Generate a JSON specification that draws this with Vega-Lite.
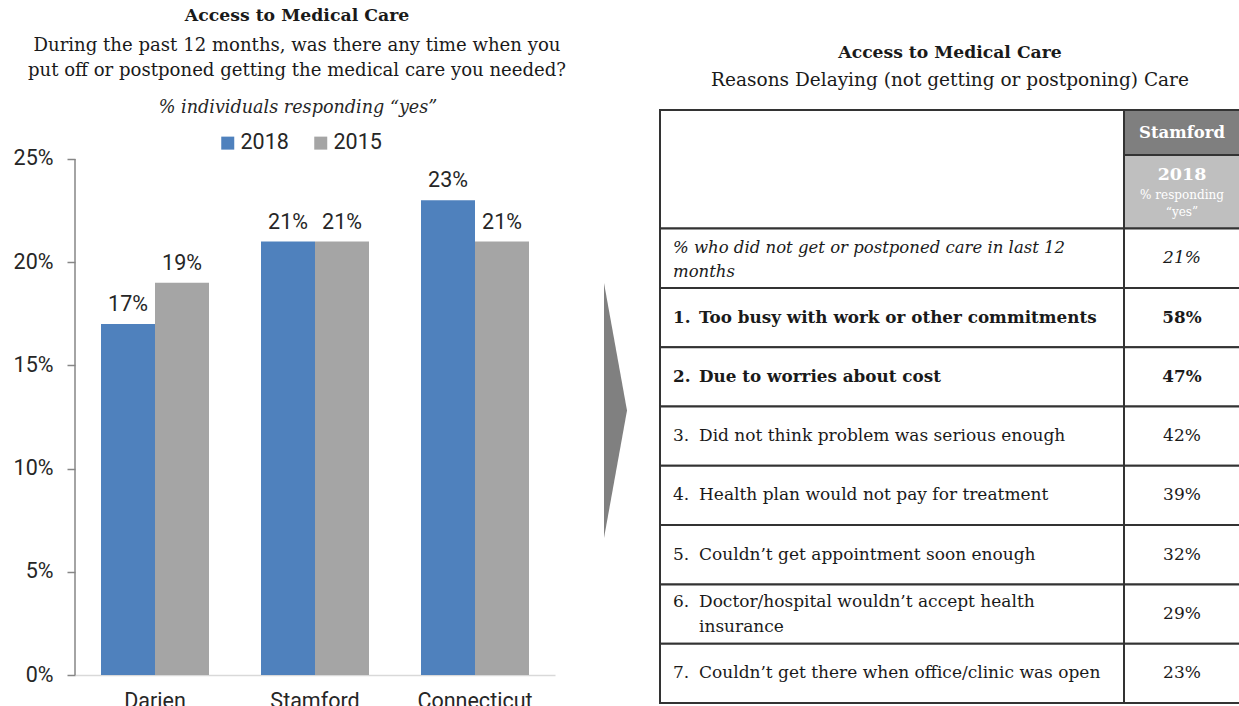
{
  "$schema": "https://vega.github.io/schema/vega-lite/v6.json",
  "background": "white",
  "padding": {"left": 13, "top": 6, "right": 0, "bottom": 0},
  "spacing": 32,
  "config": {
    "view": {"stroke": null},
    "font": "DejaVu Serif"
  },
  "hconcat": [
    {
      "width": 480,
      "height": 565,
      "title": {
        "text": "Access to Medical Care",
        "subtitle": ["During the past 12 months, was there any time when you", "put off or postponed getting the medical care you needed?"],
        "font": "DejaVu Serif",
        "fontSize": 17.3,
        "fontWeight": "bold",
        "color": "#1a1a1a",
        "subtitleFont": "DejaVu Serif",
        "subtitleFontSize": 18.1,
        "subtitleColor": "#1a1a1a",
        "subtitleLineHeight": 25,
        "subtitlePadding": 13,
        "frame": "group",
        "anchor": "middle",
        "dx": -18,
        "offset": 19
      },
      "data": {"values": [
        {"area": "Darien", "year": "2018", "pct": 0.17},
        {"area": "Darien", "year": "2015", "pct": 0.19},
        {"area": "Stamford", "year": "2018", "pct": 0.21},
        {"area": "Stamford", "year": "2015", "pct": 0.21},
        {"area": "Connecticut", "year": "2018", "pct": 0.23},
        {"area": "Connecticut", "year": "2015", "pct": 0.21}
      ]},
      "layer": [
        {
          "mark": {"type": "bar"},
          "encoding": {
            "x": {"field": "area", "type": "nominal", "sort": ["Darien", "Stamford", "Connecticut"],
              "scale": {"paddingInner": 0.325, "paddingOuter": 0.1625},
              "axis": {"title": null, "labelAngle": 0, "ticks": false, "labelFont": "Roboto", "labelFontSize": 21.5, "labelColor": "#262626", "labelPadding": 15, "domainColor": "#d9d9d9", "domainWidth": 1.5}},
            "xOffset": {"field": "year", "type": "nominal", "sort": ["2018", "2015"], "scale": {"paddingInner": 0, "paddingOuter": 0}},
            "y": {"field": "pct", "type": "quantitative", "scale": {"domain": [0, 0.27374], "nice": false},
              "axis": {"title": null, "values": [0, 0.05, 0.1, 0.15, 0.2, 0.25], "format": ".0%", "grid": false, "domain": false, "labelFont": "Roboto", "labelFontSize": 21.5, "labelColor": "#262626", "tickSize": 8, "labelPadding": 14, "tickColor": "#868686", "tickWidth": 1.5}},
            "color": {"field": "year", "type": "nominal", "sort": ["2018", "2015"],
              "scale": {"domain": ["2018", "2015"], "range": ["#4f81bd", "#a5a5a5"]},
              "legend": {"orient": "none", "legendX": 142, "legendY": 22, "direction": "horizontal", "title": null, "symbolType": "square", "symbolSize": 169, "symbolStrokeWidth": 0, "labelFont": "Roboto", "labelFontSize": 21.5, "labelColor": "#262626", "labelOffset": 2, "columnPadding": 21, "padding": 0}}
          }
        },
        {
          "data": {"values": [{"from": 0, "to": 0.25}]},
          "mark": {"type": "rule", "color": "#868686", "strokeWidth": 1.5},
          "encoding": {
            "x": {"value": 0},
            "y": {"field": "from", "type": "quantitative"},
            "y2": {"field": "to"}
          }
        },
        {
          "mark": {"type": "text", "font": "Roboto", "fontSize": 21.5, "baseline": "alphabetic", "dy": -13, "color": "#262626"},
          "encoding": {
            "x": {"field": "area", "type": "nominal", "sort": ["Darien", "Stamford", "Connecticut"]},
            "xOffset": {"field": "year", "type": "nominal", "sort": ["2018", "2015"]},
            "y": {"field": "pct", "type": "quantitative"},
            "text": {"field": "pct", "type": "quantitative", "format": ".0%"}
          }
        },
        {
          "data": {"values": [{"note": "% individuals responding “yes”"}]},
          "mark": {"type": "text", "font": "DejaVu Serif", "fontStyle": "italic", "fontSize": 17.6, "dx": -17, "dy": -51, "color": "#262626"},
          "encoding": {
            "y": {"datum": 0.25, "type": "quantitative"},
            "text": {"field": "note", "type": "nominal"}
          }
        }
      ]
    },
    {
      "width": 28,
      "height": 593,
      "data": {"values": [
        {"pos": 0, "low": -1, "high": 1},
        {"pos": 1, "low": 0, "high": 0}
      ]},
      "mark": {"type": "area", "color": "#808080", "opacity": 1},
      "encoding": {
        "x": {"field": "pos", "type": "quantitative", "scale": {"domain": [-0.2174, 1], "nice": false, "zero": false}, "axis": null},
        "y": {"field": "low", "type": "quantitative", "scale": {"domain": [-2.294, 2.357], "nice": false, "zero": false}, "axis": null},
        "y2": {"field": "high"}
      }
    },
    {
      "width": 580,
      "height": 593,
      "title": {
        "text": "Access to Medical Care",
        "subtitle": "Reasons Delaying (not getting or postponing) Care",
        "font": "DejaVu Serif",
        "fontSize": 17.2,
        "fontWeight": "bold",
        "color": "#1a1a1a",
        "subtitleFont": "DejaVu Serif",
        "subtitleFontSize": 18.5,
        "subtitleColor": "#1a1a1a",
        "subtitlePadding": 9,
        "frame": "group",
        "anchor": "middle",
        "offset": 20
      },
      "data": {"values": [
        {"rank": 0, "num": "", "reason": "% who did not get or postponed care in last 12\nmonths", "pct": 0.21},
        {"rank": 1, "num": "1.", "reason": "Too busy with work or other commitments", "pct": 0.58},
        {"rank": 2, "num": "2.", "reason": "Due to worries about cost", "pct": 0.47},
        {"rank": 3, "num": "3.", "reason": "Did not think problem was serious enough", "pct": 0.42},
        {"rank": 4, "num": "4.", "reason": "Health plan would not pay for treatment", "pct": 0.39},
        {"rank": 5, "num": "5.", "reason": "Couldn’t get appointment soon enough", "pct": 0.32},
        {"rank": 6, "num": "6.", "reason": "Doctor/hospital wouldn’t accept health\ninsurance", "pct": 0.29},
        {"rank": 7, "num": "7.", "reason": "Couldn’t get there when office/clinic was open", "pct": 0.23}
      ]},
      "layer": [
        {
          "data": {"values": [{"place": "Stamford", "year": "2018", "unit": "% responding\n“yes”"}]},
          "mark": {"type": "rect", "fill": "white", "stroke": "#333333", "strokeWidth": 2},
          "encoding": {
            "x": {"datum": 0, "type": "quantitative", "scale": {"domain": [0, 5], "nice": false, "zero": false}, "axis": null},
            "x2": {"datum": 4},
            "y": {"datum": "head1", "type": "ordinal", "bandPosition": 0, "scale": {"domain": ["head1", "head2", 0, 1, 2, 3, 4, 5, 6, 7], "paddingInner": 0, "paddingOuter": 0}, "axis": null},
            "y2": {"datum": "head2", "bandPosition": 1}
          }
        },
        {
          "data": {"values": [{"place": "Stamford", "year": "2018", "unit": "% responding\n“yes”"}]},
          "mark": {"type": "rect", "fill": "#7f7f7f", "stroke": "#333333", "strokeWidth": 2},
          "encoding": {
            "x": {"datum": 4, "type": "quantitative"},
            "x2": {"datum": 5},
            "y": {"datum": "head1", "type": "ordinal", "bandPosition": 0},
            "y2": {"datum": "head1", "bandPosition": 0.76}
          }
        },
        {
          "data": {"values": [{"place": "Stamford", "year": "2018", "unit": "% responding\n“yes”"}]},
          "mark": {"type": "rect", "fill": "#bfbfbf", "stroke": "#333333", "strokeWidth": 2},
          "encoding": {
            "x": {"datum": 4, "type": "quantitative"},
            "x2": {"datum": 5},
            "y": {"datum": "head1", "type": "ordinal", "bandPosition": 0.76},
            "y2": {"datum": "head2", "bandPosition": 1}
          }
        },
        {
          "mark": {"type": "rect", "fill": "white", "stroke": "#333333", "strokeWidth": 2},
          "encoding": {
            "x": {"datum": 0, "type": "quantitative"},
            "x2": {"datum": 4},
            "y": {"field": "rank", "type": "ordinal"}
          }
        },
        {
          "mark": {"type": "rect", "fill": "white", "stroke": "#333333", "strokeWidth": 2},
          "encoding": {
            "x": {"datum": 4, "type": "quantitative"},
            "x2": {"datum": 5},
            "y": {"field": "rank", "type": "ordinal"}
          }
        },
        {
          "data": {"values": [{"place": "Stamford", "year": "2018", "unit": "% responding\n“yes”"}]},
          "mark": {"type": "text", "font": "DejaVu Serif", "fontWeight": "bold", "fontSize": 16.5, "color": "white"},
          "encoding": {
            "x": {"datum": 4.5, "type": "quantitative"},
            "y": {"datum": "head1", "type": "ordinal", "bandPosition": 0.38},
            "text": {"field": "place", "type": "nominal"}
          }
        },
        {
          "data": {"values": [{"place": "Stamford", "year": "2018", "unit": "% responding\n“yes”"}]},
          "mark": {"type": "text", "font": "DejaVu Serif", "fontWeight": "bold", "fontSize": 17.5, "color": "white"},
          "encoding": {
            "x": {"datum": 4.5, "type": "quantitative"},
            "y": {"datum": "head2", "type": "ordinal", "bandPosition": 0.1},
            "text": {"field": "year", "type": "nominal"}
          }
        },
        {
          "data": {"values": [{"place": "Stamford", "year": "2018", "unit": "% responding\n“yes”"}]},
          "mark": {"type": "text", "font": "DejaVu Serif", "fontSize": 12, "lineHeight": 17, "lineBreak": "\n", "color": "white"},
          "encoding": {
            "x": {"datum": 4.5, "type": "quantitative"},
            "y": {"datum": "head2", "type": "ordinal", "bandPosition": 0.44},
            "text": {"field": "unit", "type": "nominal"}
          }
        },
        {
          "transform": [{"filter": "datum.rank >= 3 && !test(/\\n/, datum.reason)"}],
          "mark": {"type": "text", "font": "DejaVu Serif", "fontSize": 17, "align": "left", "dx": 13, "color": "#1a1a1a"},
          "encoding": {
            "x": {"datum": 0, "type": "quantitative"},
            "y": {"field": "rank", "type": "ordinal"},
            "text": {"field": "num", "type": "nominal"}
          }
        },
        {
          "transform": [{"filter": "datum.rank >= 3 && test(/\\n/, datum.reason)"}],
          "mark": {"type": "text", "font": "DejaVu Serif", "fontSize": 17, "align": "left", "dx": 13, "dy": -12.5, "color": "#1a1a1a"},
          "encoding": {
            "x": {"datum": 0, "type": "quantitative"},
            "y": {"field": "rank", "type": "ordinal"},
            "text": {"field": "num", "type": "nominal"}
          }
        },
        {
          "transform": [{"filter": "datum.rank >= 3 && !test(/\\n/, datum.reason)"}],
          "mark": {"type": "text", "font": "DejaVu Serif", "fontSize": 17, "align": "left", "dx": 39, "color": "#1a1a1a"},
          "encoding": {
            "x": {"datum": 0, "type": "quantitative"},
            "y": {"field": "rank", "type": "ordinal"},
            "text": {"field": "reason", "type": "nominal"}
          }
        },
        {
          "transform": [{"filter": "datum.rank >= 3 && test(/\\n/, datum.reason)"}],
          "mark": {"type": "text", "font": "DejaVu Serif", "fontSize": 17, "align": "left", "dx": 39, "dy": -12.5, "lineBreak": "\n", "lineHeight": 25, "color": "#1a1a1a"},
          "encoding": {
            "x": {"datum": 0, "type": "quantitative"},
            "y": {"field": "rank", "type": "ordinal"},
            "text": {"field": "reason", "type": "nominal"}
          }
        },
        {
          "transform": [{"filter": "datum.rank >= 3"}],
          "mark": {"type": "text", "font": "DejaVu Serif", "fontSize": 17, "color": "#1a1a1a"},
          "encoding": {
            "x": {"datum": 4.5, "type": "quantitative"},
            "y": {"field": "rank", "type": "ordinal"},
            "text": {"field": "pct", "type": "quantitative", "format": ".0%"}
          }
        },
        {
          "transform": [{"filter": "datum.rank >= 1 && datum.rank <= 2"}],
          "mark": {"type": "text", "font": "DejaVu Serif", "fontWeight": "bold", "fontSize": 16.8, "align": "left", "dx": 13, "color": "#1a1a1a"},
          "encoding": {
            "x": {"datum": 0, "type": "quantitative"},
            "y": {"field": "rank", "type": "ordinal"},
            "text": {"field": "num", "type": "nominal"}
          }
        },
        {
          "transform": [{"filter": "datum.rank >= 1 && datum.rank <= 2"}],
          "mark": {"type": "text", "font": "DejaVu Serif", "fontWeight": "bold", "fontSize": 16.8, "align": "left", "dx": 39, "color": "#1a1a1a"},
          "encoding": {
            "x": {"datum": 0, "type": "quantitative"},
            "y": {"field": "rank", "type": "ordinal"},
            "text": {"field": "reason", "type": "nominal"}
          }
        },
        {
          "transform": [{"filter": "datum.rank >= 1 && datum.rank <= 2"}],
          "mark": {"type": "text", "font": "DejaVu Serif", "fontWeight": "bold", "fontSize": 16.8, "color": "#1a1a1a"},
          "encoding": {
            "x": {"datum": 4.5, "type": "quantitative"},
            "y": {"field": "rank", "type": "ordinal"},
            "text": {"field": "pct", "type": "quantitative", "format": ".0%"}
          }
        },
        {
          "transform": [{"filter": "datum.rank == 0"}],
          "mark": {"type": "text", "font": "DejaVu Serif", "fontStyle": "italic", "fontSize": 16.5, "align": "left", "dx": 13, "dy": -10, "lineBreak": "\n", "lineHeight": 24, "color": "#1a1a1a"},
          "encoding": {
            "x": {"datum": 0, "type": "quantitative"},
            "y": {"field": "rank", "type": "ordinal"},
            "text": {"field": "reason", "type": "nominal"}
          }
        },
        {
          "transform": [{"filter": "datum.rank == 0"}],
          "mark": {"type": "text", "font": "DejaVu Serif", "fontStyle": "italic", "fontSize": 17, "color": "#1a1a1a"},
          "encoding": {
            "x": {"datum": 4.5, "type": "quantitative"},
            "y": {"field": "rank", "type": "ordinal"},
            "text": {"field": "pct", "type": "quantitative", "format": ".0%"}
          }
        }
      ]
    }
  ]
}
